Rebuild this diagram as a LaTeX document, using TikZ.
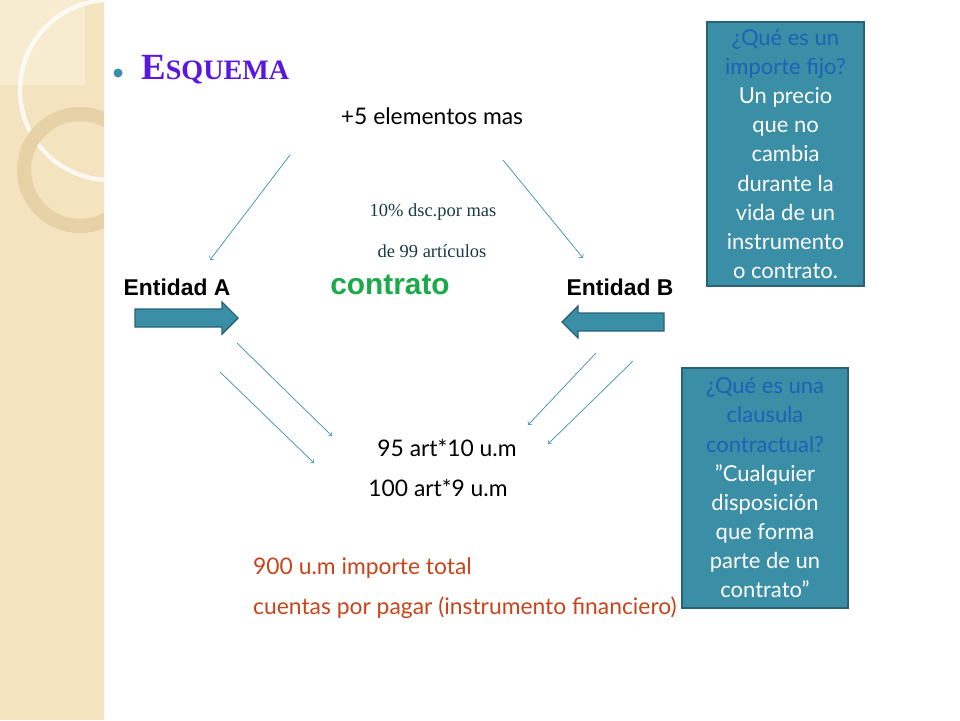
\documentclass[tikz,border=0pt]{standalone}
\usepackage{fontspec}
\setmainfont{Lato}
\newfontfamily\arialf{Liberation Sans}
\newfontfamily\timesf{Liberation Serif}
\definecolor{teal1}{HTML}{3A8EA5}
\definecolor{tealdark}{HTML}{2A6275}
\definecolor{beige}{HTML}{F3E3BE}
\definecolor{beigelt}{HTML}{F7EBD0}
\definecolor{ringc}{HTML}{E6D2A6}
\definecolor{qblue}{HTML}{1C63B8}
\definecolor{rust}{HTML}{C8441A}
\definecolor{purp}{HTML}{5A17E0}
\definecolor{greenc}{HTML}{1BAA4A}
\tikzset{
  thinarr/.style={->,color=teal1,thin},
  blockarr/.style={fill=teal1,draw=tealdark,thick,line join=miter},
  infobox/.style={draw=tealdark,thick,fill=teal1,text=white,align=center,font=\fontsize{12.5}{16.6}\selectfont,inner sep=2pt},
  lbl/.style={font=\fontsize{13}{15}\selectfont}
}
\begin{document}
\begin{tikzpicture}[x=0.02cm,y=-0.02cm]
\useasboundingbox (0,0) rectangle (960,720);
% side strip
\fill[beige] (0,0) rectangle (105,720);
\begin{scope}
\clip (0,0) rectangle (105,720);
\fill[beigelt] (0,0) rectangle (85,85);
\draw[white,line width=2.5pt,opacity=0.8] (110,90) circle (90);
\draw[ringc,line width=8pt] (80,170) circle (56);
\end{scope}
\draw[white!85!beige,line width=1pt] (105,0) -- (105,720);
% heading
\fill[teal1] (118,73) circle (4.5);
\node[anchor=west,text=purp,font=\timesf\bfseries] (title) at (135,70)
  {\fontsize{21}{22}\selectfont E\fontsize{16}{22}\selectfont SQUEMA};
\node[lbl] (extra) at (432,116) {+5 elementos mas};
\node[font=\timesf\fontsize{10.5}{12}\selectfont,text=tealdark!60!black] (dsc) at (433,212) {10\% dsc.por mas};
\node[font=\timesf\fontsize{10.5}{12}\selectfont,text=tealdark!60!black] (art) at (432,251) {de 99 artículos};
\node[font=\arialf\bfseries\fontsize{13}{15}\selectfont] (entA) at (177,287) {Entidad A};
\node[font=\arialf\bfseries\fontsize{17}{19}\selectfont,text=greenc] (contr) at (390,285) {contrato};
\node[font=\arialf\bfseries\fontsize{13}{15}\selectfont] (entB) at (620,287) {Entidad B};
% block arrows
\draw[blockarr] (135,309) -- (222,309) -- (222,302) -- (238,318) -- (222,334) -- (222,327) -- (135,327) -- cycle;
\draw[blockarr] (664,313) -- (578,313) -- (578,306) -- (562,322) -- (578,338) -- (578,331) -- (664,331) -- cycle;
% thin arrows
\coordinate (t1) at (290,155); \coordinate (h1) at (210,260);
\coordinate (t2) at (503,160); \coordinate (h2) at (583,258);
\coordinate (t3) at (237,343); \coordinate (h3) at (332,436);
\coordinate (t4) at (220,372); \coordinate (h4) at (314,463);
\coordinate (t5) at (596,353); \coordinate (h5) at (528,425);
\coordinate (t6) at (633,361); \coordinate (h6) at (548,444);
\foreach \i in {1,...,6} \draw[thinarr] (t\i) -- (h\i);
\node[lbl] (p95) at (447,448) {95 art*10 u.m};
\node[lbl] (p100) at (438,488) {100 art*9 u.m};
\node[lbl,anchor=west,text=rust] (tot) at (247,568) {900 u.m importe total};
\node[lbl,anchor=west,text=rust] (cxp) at (247,608) {cuentas por pagar (instrumento financiero)};
% info boxes
\node[infobox,minimum height=5.28cm,minimum width=3.14cm] (box1) at (785.5,154)
  {\color{qblue}¿Qué es un\\\color{qblue}importe fijo?\\Un precio\\que no\\cambia\\durante la\\vida de un\\instrumento\\o contrato.};
\node[infobox,minimum height=4.8cm,minimum width=3.32cm] (box2) at (765,488)
  {\color{qblue}¿Qué es una\\\color{qblue}clausula\\\color{qblue}contractual?\\\char34 Cualquier\\disposición\\que forma\\parte de un\\contrato\char34};
\end{tikzpicture}
\end{document}
